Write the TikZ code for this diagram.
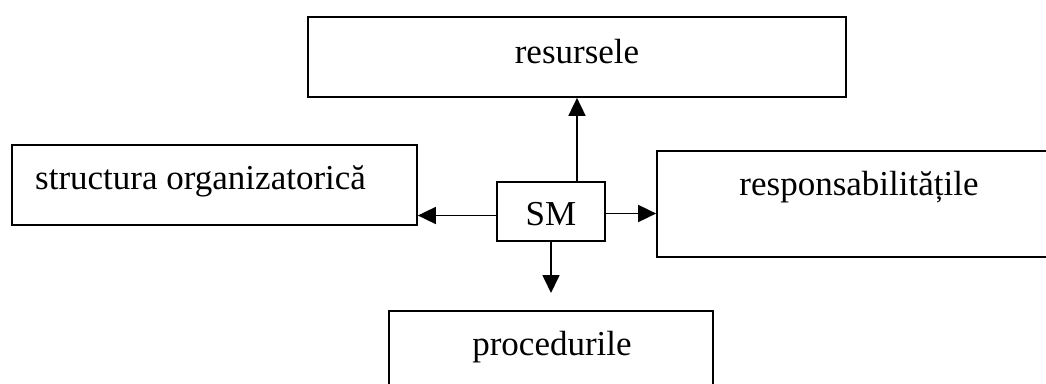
\documentclass[tikz,border=0pt]{standalone}
\usepackage{fontspec}
\setmainfont{Liberation Serif}
\usetikzlibrary{arrows.meta}
\begin{document}
\begin{tikzpicture}[x=1pt,y=-1pt,
  box/.style={draw=black, line width=1.7pt, rectangle, inner sep=0pt, fill=none},
  lbl/.style={inner sep=0pt, font=\fontsize{35}{40}\selectfont},
  arr/.style={line width=1.7pt, -{Triangle[length=18pt,width=17pt]}}]
  \useasboundingbox (0,0) rectangle (1046,383);
  \clip (0,0) rectangle (1046,383);
  % boxes
  \node[box, minimum width=538pt, minimum height=80pt] (res) at (577,57) {};
  \node[box, minimum width=405pt, minimum height=80pt] (str) at (214.5,185) {};
  \node[box, minimum width=108pt, minimum height=59pt] (sm) at (551,211.5) {};
  \node[box, minimum width=405pt, minimum height=106pt] (resp) at (859.5,204) {};
  \node[box, minimum width=324pt, minimum height=100pt] (proc) at (551,361) {};
  % labels
  \node[lbl, anchor=base] (tres) at (577,63) {resursele};
  \node[lbl, anchor=base west] (tstr) at (35,189) {structura organizatorică};
  \node[lbl, anchor=base] (tsm) at (551,225) {SM};
  \node[lbl, anchor=base] (tresp) at (859,195) {responsabilitățile};
  \node[lbl, anchor=base] (tproc) at (552,355) {procedurile};
  % connectors
  \coordinate (dn) at (551,293);
  \draw[arr] (sm.north -| res.south) -- (res.south);
  \draw[arr] ([yshift=-4pt]sm.west) -- ([yshift=-4pt]sm.west -| str.east);
  \draw[arr] ([yshift=-2pt]sm.east) -- ([yshift=-2pt]sm.east -| resp.west);
  \draw[arr] (sm.south) -- (dn);
\end{tikzpicture}
\end{document}
